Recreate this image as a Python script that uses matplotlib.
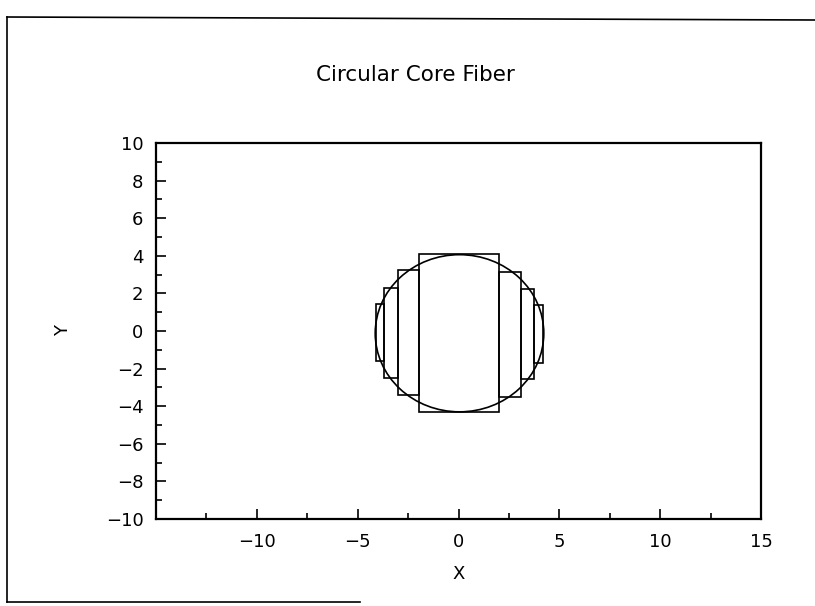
import matplotlib
matplotlib.use("Agg")
import matplotlib.pyplot as plt
from matplotlib.patches import Rectangle, Circle
from matplotlib.lines import Line2D
from matplotlib.ticker import MultipleLocator

title = "Circular Core Fiber"
x_label = "X"
y_label = "Y"
x_ticks = [-10, -5, 0, 5, 10, 15]
y_ticks = [-10, -8, -6, -4, -2, 0, 2, 4, 6, 8, 10]

circle_center = (0.05, -0.12)
circle_radius = 4.18

rect_left = [-1.95, -3.0, -3.68, -4.1, 2.0, 3.1, 3.73]
rect_right = [2.0, -1.95, -3.0, -3.68, 3.1, 3.73, 4.18]
rect_bottom = [-4.3, -3.4, -2.48, -1.6, -3.5, -2.55, -1.69]
rect_top = [4.08, 3.23, 2.3, 1.45, 3.15, 2.23, 1.37]

fig = plt.figure(figsize=(8.15, 6.06), dpi=100)
W, H = 815, 606
ax = fig.add_axes([156 / W, 1 - 519 / H, (761 - 156) / W, (519 - 143) / H])
ax.set_xlim(-15, 15)
ax.set_ylim(-10, 10)

for x0, x1, y0, y1 in zip(rect_left, rect_right, rect_bottom, rect_top):
    ax.add_patch(Rectangle((x0, y0), x1 - x0, y1 - y0, fill=False,
                           edgecolor="black", linewidth=1.2))
ax.add_patch(Circle(circle_center, circle_radius, fill=False,
                    edgecolor="black", linewidth=1.2))

ax.set_xticks(x_ticks)
ax.set_yticks(y_ticks)
ax.xaxis.set_minor_locator(MultipleLocator(2.5))
ax.yaxis.set_minor_locator(MultipleLocator(1))
ax.tick_params(which="both", direction="in", top=False, right=False,
               width=1.2, colors="black")
ax.tick_params(which="major", length=7, labelsize=13)
ax.tick_params(axis="x", which="major", pad=10)
ax.tick_params(axis="y", which="major", pad=9)
ax.tick_params(which="minor", length=4)
for s in ax.spines.values():
    s.set_linewidth(1.6)

ax.set_xlabel(x_label, fontsize=13, labelpad=10)
ax.set_ylabel(y_label, fontsize=13, labelpad=24)
fig.text(415 / W, 1 - 75 / H, title, ha="center", va="center", fontsize=15.5)

# outer frame
fig.add_artist(Line2D([7 / W, 7 / W], [1 - 17 / H, 1 - 602 / H],
                      transform=fig.transFigure, color="black", lw=1.2))
fig.add_artist(Line2D([7 / W, 1.0], [1 - 17 / H, 1 - 20 / H],
                      transform=fig.transFigure, color="black", lw=1.2))
fig.add_artist(Line2D([7 / W, 360 / W], [1 - 602 / H, 1 - 602 / H],
                      transform=fig.transFigure, color="black", lw=1.2))

fig.savefig("out.png", dpi=100)
